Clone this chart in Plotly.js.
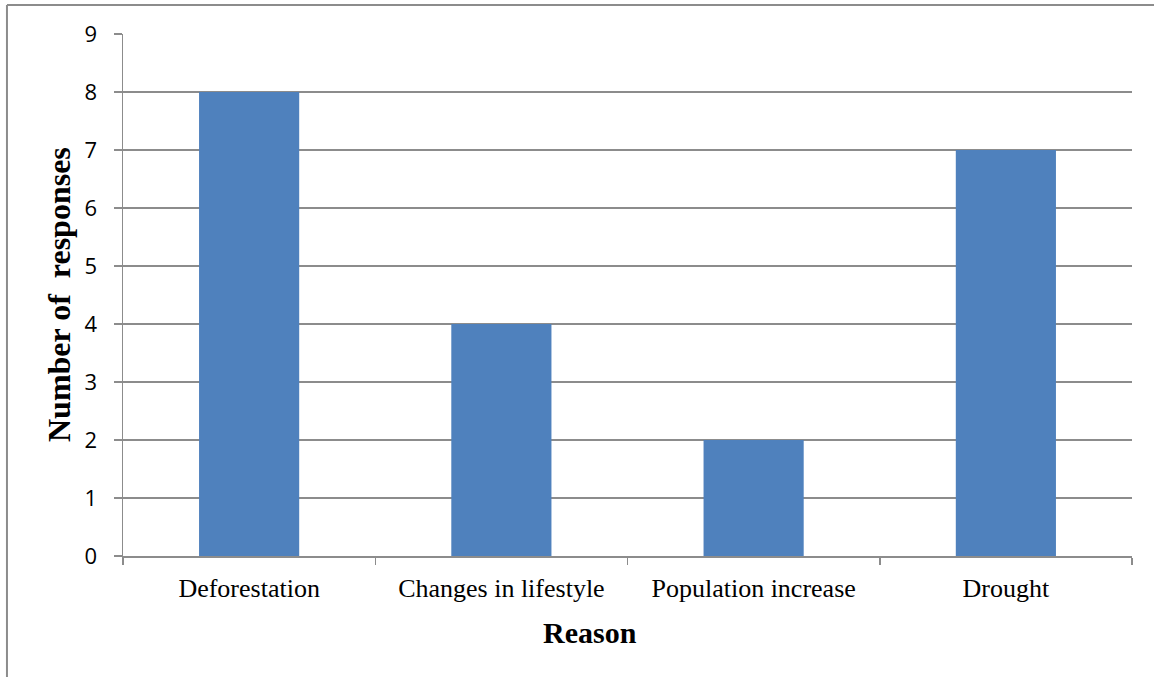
<!DOCTYPE html>
<html>
<head>
<meta charset="utf-8">
<script src="https://cdn.plot.ly/plotly-3.0.1.min.js"></script>
<style>
  html, body { margin: 0; padding: 0; background: #fff; }
  #chart { width: 1154px; height: 677px; }
</style>
</head>
<body>
<div id="chart"></div>
<script>
// Reasons given and how many responses named each one
const reasons = ["Deforestation", "Changes in lifestyle", "Population increase", "Drought"];
const responses = [8, 4, 2, 7];
const yTicks = [0, 1, 2, 3, 4, 5, 6, 7, 8, 9];

const gray = "#8c8c8c";
const serif = "Liberation Serif, Times New Roman, serif";

const trace = {
  type: "bar",
  x: reasons,
  y: responses,
  marker: { color: "#4F81BD", line: { width: 0 } },
  hoverinfo: "x+y"
};

const layout = {
  width: 1154,
  height: 677,
  margin: { l: 123, r: 22, t: 34, b: 121, pad: 0 },
  paper_bgcolor: "#ffffff",
  plot_bgcolor: "#ffffff",
  bargap: 0.603,
  showlegend: false,
  xaxis: {
    type: "category",
    range: [-0.5, 3.5],
    showgrid: false,
    showline: true,
    linecolor: gray,
    linewidth: 1.5,
    ticks: "outside",
    tickson: "boundaries",
    ticklen: 7,
    tickcolor: gray,
    tickwidth: 1.5,
    ticklabelstandoff: 8,
    tickfont: { family: serif, size: 26, color: "#000" },
    fixedrange: true
  },
  yaxis: {
    range: [0, 9],
    tickvals: yTicks,
    showgrid: true,
    gridcolor: gray,
    gridwidth: 1.5,
    zeroline: false,
    showline: true,
    linecolor: gray,
    linewidth: 1.5,
    ticks: "outside",
    ticklen: 8,
    tickcolor: gray,
    tickwidth: 1.5,
    ticklabelstandoff: 12,
    tickfont: { family: "Open Sans, sans-serif", size: 22, color: "#000" },
    fixedrange: true
  },
  annotations: [
    // axis titles
    { text: "Reason", xref: "paper", yref: "paper", x: 0.4628, y: -0.1475,
      xanchor: "center", yanchor: "middle", showarrow: false,
      font: { family: serif, size: 30, color: "#000", weight: "bold" } },
    { text: "Number of  responses", xref: "paper", yref: "paper", x: -0.0634, y: 0.5,
      xanchor: "center", yanchor: "middle", textangle: -90, showarrow: false,
      font: { family: serif, size: 32, color: "#000", weight: "bold" } }
  ],
  shapes: [
    // frame around the chart area (left and top edges)
    { type: "line", xref: "paper", yref: "paper", x0: -0.115, x1: -0.115, y0: -0.35, y1: 1.0556,
      line: { color: gray, width: 2 } },
    { type: "line", xref: "paper", yref: "paper", x0: -0.115, x1: 1.05, y0: 1.0556, y1: 1.0556,
      line: { color: gray, width: 2 } }
  ]
};

Plotly.newPlot("chart", [trace], layout, { displayModeBar: false, staticPlot: true });
</script>
</body>
</html>
